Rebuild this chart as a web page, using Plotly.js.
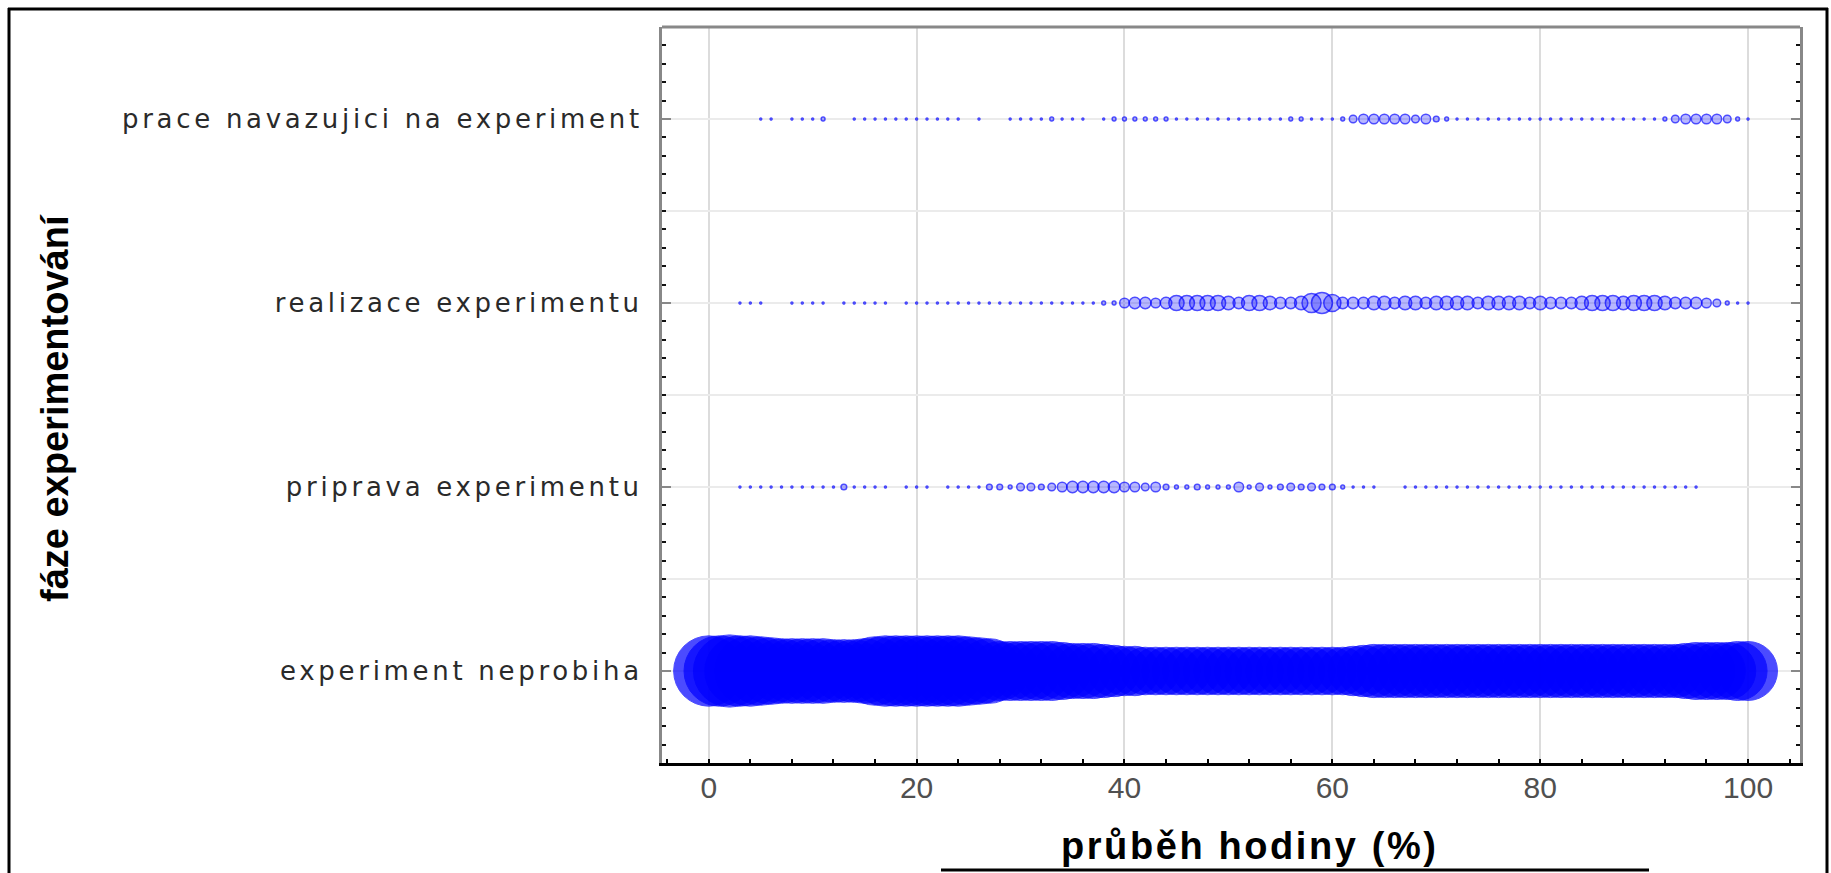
<!DOCTYPE html>
<html>
<head>
<meta charset="utf-8">
<script src="https://cdn.plot.ly/plotly-3.0.1.min.js"></script>
<style>
html, body { margin: 0; padding: 0; background: #ffffff; }
#chart { width: 1831px; height: 873px; }
#chart .ytick text { letter-spacing: 3.7px; }
#chart g.annotation[data-index="1"] text { letter-spacing: 2.6px; }
</style>
</head>
<body>
<div id="chart"></div>
<script>
// Categories (bottom to top)
const phases = [
  'experiment neprobiha',
  'priprava experimentu',
  'realizace experimentu',
  'prace navazujici na experiment'
];

// Lesson progress (%)
const percent = [
  0,1,2,3,4,5,6,7,8,9,
  10,11,12,13,14,15,16,17,18,19,
  20,21,22,23,24,25,26,27,28,29,
  30,31,32,33,34,35,36,37,38,39,
  40,41,42,43,44,45,46,47,48,49,
  50,51,52,53,54,55,56,57,58,59,
  60,61,62,63,64,65,66,67,68,69,
  70,71,72,73,74,75,76,77,78,79,
  80,81,82,83,84,85,86,87,88,89,
  90,91,92,93,94,95,96,97,98,99,
  100
];

// Counts per percent for each phase
const countNeprobiha = [
  37,37,38,37,37,36,35,34,34,34,
  34,34,33,33,33,34,36,37,37,37,
  37,37,37,37,37,36,35,34,31,31,
  31,31,31,31,30,29,29,29,28,27,
  26,26,25,25,25,25,25,25,25,25,
  25,25,25,25,25,25,25,25,25,25,
  25,25,26,27,28,28,28,28,28,28,
  28,28,28,28,28,28,28,28,28,28,
  28,28,28,28,28,28,28,28,28,28,
  28,28,28,28,29,30,30,30,30,31,
  31
];
const countPriprava = [
  0,0,0,1,1,1,1,1,1,1,
  1,1,1,3,1,1,1,1,0,1,
  1,1,0,1,1,1,1,3,3,2,
  4,4,3,4,5,6,6,6,6,6,
  5,5,4,5,3,2,2,3,2,2,
  2,5,2,4,2,3,4,3,4,3,
  3,2,1,1,1,0,0,1,1,1,
  1,1,1,1,1,1,1,1,1,1,
  1,1,1,1,1,1,1,1,1,1,
  1,1,1,1,1,1,0,0,0,0,
  0
];
const countRealizace = [
  0,0,0,1,1,1,0,0,1,1,
  1,1,0,1,1,1,1,1,0,1,
  1,1,1,1,1,1,1,1,1,1,
  1,1,1,1,1,1,1,1,2,2,
  5,6,6,5,6,8,8,8,8,8,
  7,6,8,8,7,6,6,7,10,11,
  9,6,6,6,7,7,6,7,7,6,
  7,7,7,7,6,7,7,7,7,6,
  7,6,6,6,7,8,8,8,7,8,
  8,8,7,6,6,6,5,4,2,1,
  1
];
const countPrace = [
  0,0,0,0,0,1,1,0,1,1,
  1,2,0,0,1,1,1,1,1,1,
  1,1,1,1,1,0,1,0,0,1,
  1,1,1,2,1,1,1,0,1,2,
  2,2,2,2,2,1,1,1,1,1,
  1,1,1,1,1,1,2,2,1,1,
  1,2,4,5,5,5,5,5,4,5,
  3,2,1,1,1,1,1,1,1,1,
  1,1,1,1,1,1,1,1,1,1,
  1,1,2,4,5,5,5,5,4,2,
  1
];

const xTickStart = 0;
const xTickStep = 20;
const xTitle = 'průběh hodiny (%)';
const yTitle = 'fáze experimentování';

const PX_PER_COUNT = 1.9;

function rowTrace(counts, rowIndex, fill, lineWidth) {
  const xs = [], ys = [], ss = [];
  counts.forEach(function (c, i) {
    if (c > 0) { xs.push(percent[i]); ys.push(rowIndex); ss.push(c); }
  });
  return {
    type: 'scatter',
    mode: 'markers',
    name: phases[rowIndex],
    x: xs,
    y: ys,
    text: ss.map(String),
    hovertemplate: '%{x} %: %{text}<extra>' + phases[rowIndex] + '</extra>',
    marker: {
      symbol: 'circle',
      size: ss,
      sizemode: 'diameter',
      sizeref: 1 / PX_PER_COUNT,
      color: fill,
      line: { color: '#0000ff', width: lineWidth }
    },
    showlegend: false
  };
}

const data = [
  rowTrace(countNeprobiha, 0, '#0000ff', 1),
  rowTrace(countPriprava, 1, 'rgba(0,0,255,0.4)', 1.5),
  rowTrace(countRealizace, 2, 'rgba(0,0,255,0.4)', 1.5),
  rowTrace(countPrace, 3, 'rgba(0,0,255,0.4)', 1.5)
];

// y ticks: labels at categories, gridlines at every half step
const yTickVals = [];
const yTickText = [];
for (let k = -1; k <= phases.length * 2 - 1; k++) {
  const v = k / 2;
  yTickVals.push(v);
  yTickText.push(Number.isInteger(v) && v >= 0 && v < phases.length ? phases[v] : '');
}
const yMinorVals = [];
for (let k = -5; k <= 35; k++) yMinorVals.push(k / 10);

// plot area in pixels (for placing decorations in paper units)
const PL = 662, PR = 1800, PT = 27, PB = 763;
const px = function (x) { return (x - PL) / (PR - PL); };
const py = function (y) { return (PB - y) / (PB - PT); };

const layout = {
  width: 1831,
  height: 873,
  margin: { l: PL, r: 1831 - PR, t: PT, b: 873 - PB, pad: 0 },
  paper_bgcolor: '#ffffff',
  plot_bgcolor: '#ffffff',
  showlegend: false,
  hovermode: 'closest',
  xaxis: {
    range: [-4.5, 105],
    tickmode: 'linear',
    tick0: xTickStart,
    dtick: xTickStep,
    showgrid: true,
    gridcolor: '#dcdcdc',
    gridwidth: 2,
    zeroline: false,
    showline: true,
    linecolor: '#000000',
    linewidth: 3,
    ticks: 'inside',
    ticklen: 4,
    tickwidth: 2,
    tickcolor: '#000000',
    ticklabelstandoff: -4,
    tickfont: { family: 'Liberation Sans, Arial, sans-serif', size: 30, color: '#505050' },
    minor: { tick0: 0, dtick: 4, ticks: 'inside', ticklen: 4, tickwidth: 2, tickcolor: '#000000', showgrid: false },
    automargin: false,
    fixedrange: true
  },
  yaxis: {
    range: [-0.5, 3.5],
    tickmode: 'array',
    tickvals: yTickVals,
    ticktext: yTickText,
    showgrid: true,
    gridcolor: '#ebebeb',
    gridwidth: 2,
    zeroline: false,
    showline: true,
    linecolor: '#888888',
    linewidth: 3,
    mirror: 'allticks',
    ticks: 'inside',
    ticklen: 9,
    tickwidth: 2,
    tickcolor: '#888888',
    ticklabelstandoff: 11,
    tickfont: { family: 'DejaVu Sans, sans-serif', size: 26, color: '#2a2a2a' },
    minor: { tickmode: 'array', tickvals: yMinorVals, ticks: 'inside', ticklen: 4, tickwidth: 2, tickcolor: '#111111', showgrid: false },
    automargin: false,
    fixedrange: true
  },
  annotations: [
    {
      text: yTitle,
      xref: 'paper', yref: 'paper',
      x: px(55), y: py(408),
      xanchor: 'center', yanchor: 'middle',
      textangle: -90,
      showarrow: false,
      font: { family: 'Liberation Sans, Arial, sans-serif', size: 38, color: '#000000', weight: 'bold' }
    },
    {
      text: xTitle,
      xref: 'paper', yref: 'paper',
      x: px(1250), y: py(846),
      xanchor: 'center', yanchor: 'middle',
      showarrow: false,
      font: { family: 'Liberation Sans, Arial, sans-serif', size: 38, color: '#000000', weight: 'bold' }
    }
  ],
  shapes: [
    // top frame of plot area
    { type: 'line', xref: 'paper', yref: 'paper', x0: 0, x1: 1, y0: 1, y1: 1, line: { color: '#888888', width: 3 } },
    // outer picture border
    { type: 'line', xref: 'paper', yref: 'paper', x0: px(9), x1: px(9), y0: py(8), y1: py(880), line: { color: '#000000', width: 3 } },
    { type: 'line', xref: 'paper', yref: 'paper', x0: px(8), x1: px(1828), y0: py(9), y1: py(9), line: { color: '#000000', width: 3 } },
    { type: 'line', xref: 'paper', yref: 'paper', x0: px(1827), x1: px(1827), y0: py(8), y1: py(880), line: { color: '#000000', width: 3 } },
    // line under the x-axis title
    { type: 'line', xref: 'paper', yref: 'paper', x0: px(941), x1: px(1649), y0: py(870), y1: py(870), line: { color: '#000000', width: 3 } }
  ]
};

Plotly.newPlot('chart', data, layout, { displayModeBar: false, responsive: false });
</script>
</body>
</html>
